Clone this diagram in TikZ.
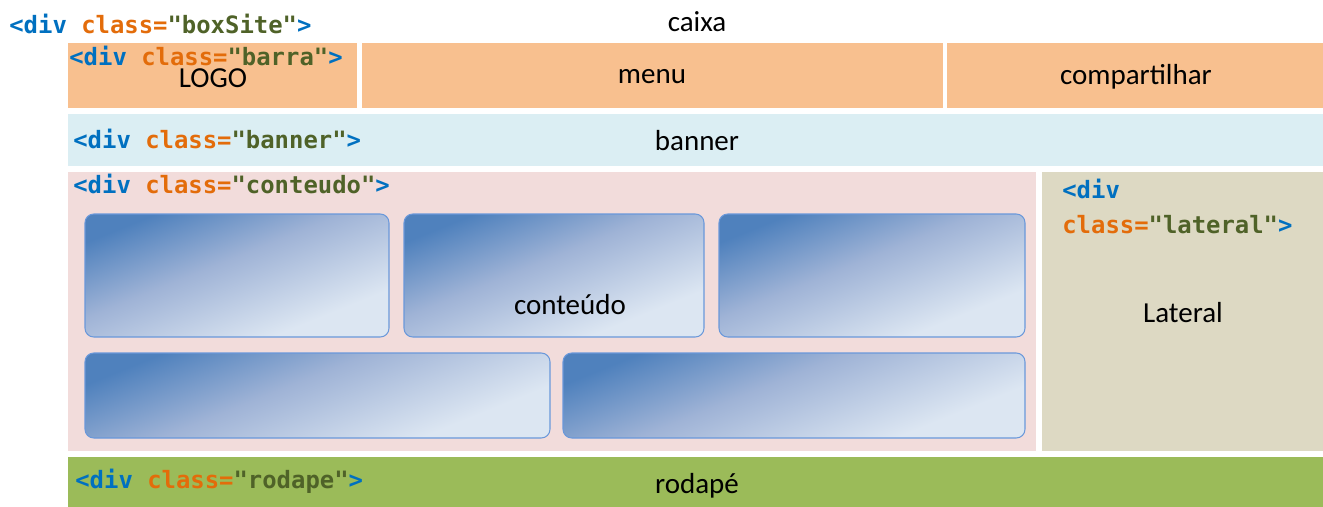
\documentclass[tikz,border=0pt]{standalone}
\usepackage{fontspec}
\setmainfont{Carlito}
\newfontfamily\codefont{DejaVu Sans Mono}
\usetikzlibrary{fit}
\definecolor{cblue}{HTML}{0070C0}
\definecolor{corange}{HTML}{E36C0A}
\definecolor{cgreen}{HTML}{4F6228}
\definecolor{barracol}{HTML}{F8C08F}
\definecolor{bannercol}{HTML}{DBEEF3}
\definecolor{conteudocol}{HTML}{F2DCDB}
\definecolor{lateralcol}{HTML}{DDD9C3}
\definecolor{rodapecol}{HTML}{9BBB59}
\definecolor{gdark}{HTML}{4F81BD}
\definecolor{gmid}{HTML}{9FB3D6}
\definecolor{glight}{HTML}{DCE6F2}
\definecolor{gborder}{HTML}{6A98DA}
\pgfdeclareverticalshading{cardshade}{100bp}{color(0bp)=(glight); color(30bp)=(glight); color(55bp)=(gmid); color(75bp)=(gdark); color(100bp)=(gdark)}
\newcommand\tagopen{{\color{cblue}<div}}
\newcommand\tagclass[1]{{\color{corange}class=}{\color{cgreen}"#1"}{\color{cblue}>}}
\newcommand\divtag[1]{\tagopen\ \tagclass{#1}}
\tikzset{
  area/.style={fit={#1}, inner sep=0pt, draw=none},
  card/.style={fit={#1}, inner sep=0pt, rounded corners=5pt, draw=gborder, line width=0.6pt,
    shading=cardshade, shading angle=22},
  code/.style={font=\codefont\bfseries\fontsize{13.6}{18}\selectfont, inner sep=0pt, anchor=west},
  lbl/.style={font=\fontsize{16.5}{19}\selectfont, inner sep=0pt, text=black},
}
\begin{document}
\begin{tikzpicture}[x=0.02cm, y=-0.02cm]
\useasboundingbox (0,0) rectangle (1323,507);
% areas
\node[area={(68,43) (357,108)}, fill=barracol] (logo) {};
\node[area={(362,43) (943,108)}, fill=barracol] (menu) {};
\node[area={(947,43) (1323,108)}, fill=barracol] (comp) {};
\node[area={(68,114) (1323,166)}, fill=bannercol] (banner) {};
\node[area={(68,172) (1036,451)}, fill=conteudocol] (conteudo) {};
\node[area={(1042,172) (1323,451)}, fill=lateralcol] (lateral) {};
\node[area={(68,457) (1323,507)}, fill=rodapecol] (rodape) {};
% cards
\node[card={(85,214) (389,337)}] (c1) {};
\node[card={(404,214) (704,337)}] (c2) {};
\node[card={(719,214) (1025,337)}] (c3) {};
\node[card={(85,353) (550,438)}] (c4) {};
\node[card={(563,353) (1025,438)}] (c5) {};
% code labels
\node[code] (tboxsite) at (9,24) {\divtag{boxSite}};
\node[code] (tbarra) at (69,56) {\divtag{barra}};
\node[code] (tbanner) at (73,139) {\divtag{banner}};
\node[code] (tconteudo) at (73,184) {\divtag{conteudo}};
\node[code] (tlat1) at (1062,189) {\tagopen};
\node[code] (tlat2) at (1062,225) {\tagclass{lateral}};
\node[code] (trodape) at (75,481) {\divtag{rodape}};
% plain labels
\node[lbl] (caixa) at (697,22) {caixa};
\node[lbl] (llogo) at (213,78) {LOGO};
\node[lbl] (lmenu) at (652,77) {menu};
\node[lbl] (lcomp) at (1136,77) {compartilhar};
\node[lbl] (lbanner) at (697,141) {banner};
\node[lbl] (lconteudo) at (570,305) {conteúdo};
\node[lbl] (llateral) at (1183,313) {Lateral};
\node[lbl] (lrodape) at (697,486) {rodapé};
\end{tikzpicture}
\end{document}
